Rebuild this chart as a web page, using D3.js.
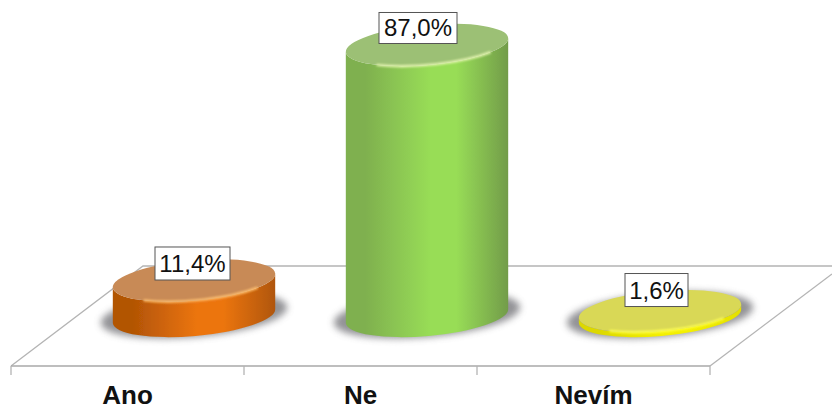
<!DOCTYPE html>
<html><head><meta charset="utf-8">
<script src="https://cdn.jsdelivr.net/npm/d3@7"></script>
<style>html,body{margin:0;padding:0;background:#fff}svg{display:block}text{font-family:"Liberation Sans",Arial,sans-serif}</style>
</head><body><svg id="c" width="832" height="410"></svg>
<script>
const categories = ["Ano","Ne","Nevím"];
const values = [11.4,87.0,1.6];
const valueLabels = ["11,4%","87,0%","1,6%"];
const sideDark = ["#b25405","#7fb04f","#dcd800"];
const sideMid = ["#ec7510","#98dd56","#f4f000"];
const sideEnd = ["#b05608","#729c4a","#e4e000"];
const topFill = ["#c88a56","#9cc074","#d9d856"];
const rimLight = ["#ffc070","#e4f4b0","#ffff50"];

const svg = d3.select("#c");
const defs = svg.append("defs");
const W0=11, W1=710, FY=366, DX=133, DY=100;
const x = d3.scaleBand().domain(categories).range([W0,W1]);
const y = d3.scaleLinear().domain([0,100]).range([FY-DY/2, FY-DY/2-311.5]);
const cx = c => x(c)+x.bandwidth()/2+DX/2;
const RX=81.5, RY=20, ROT=-5;
const rad=ROT*Math.PI/180, ex=RX*Math.cos(rad), ey=RX*Math.sin(rad);

defs.append("filter").attr("id","sh").attr("x","-20%").attr("y","-50%").attr("width","140%").attr("height","200%")
  .append("feGaussianBlur").attr("stdDeviation",3.5);
defs.append("filter").attr("id","rim").attr("x","-10%").attr("y","-50%").attr("width","120%").attr("height","200%")
  .append("feGaussianBlur").attr("stdDeviation",0.9);
defs.append("filter").attr("id","soft").attr("x","-5%").attr("y","-5%").attr("width","110%").attr("height","110%")
  .append("feGaussianBlur").attr("stdDeviation",0.35);

categories.forEach((c,i)=>{
  const g=defs.append("linearGradient").attr("id","side"+i);
  [[0,sideDark[i]],[0.12,sideDark[i]],[0.52,sideMid[i]],[0.68,sideMid[i]],[1,sideEnd[i]]].forEach(s=>
    g.append("stop").attr("offset",s[0]).attr("stop-color",s[1]));
});

// floor
const floor = svg.append("g").attr("fill","none").attr("stroke","#b4b4b4").attr("stroke-width",1.3);
floor.append("path").attr("d",d3.line()([[W0,FY],[W0+DX-1,FY-DY],[832,FY-DY]]));
floor.append("path").attr("d",d3.line()([[W1,FY],[W1+DX-11,FY-DY+8]]));
floor.append("path").attr("d",d3.line()([[W0,FY],[W1,FY]])).attr("stroke","#a8a8a8");
d3.range(categories.length+1).forEach(k=>{
  const tx = k<categories.length ? x(categories[k]) : W1;
  floor.append("line").attr("x1",tx).attr("x2",tx).attr("y1",FY).attr("y2",FY+9);
});

// shadows
svg.append("g").selectAll("ellipse").data(categories).join("ellipse")
  .attr("cx",c=>cx(c)).attr("cy",y(0)-1).attr("rx",RX+12).attr("ry",RY+2)
  .attr("transform",c=>`rotate(${ROT} ${cx(c)} ${y(0)-1})`)
  .attr("fill","#808084").attr("opacity",0.85).attr("filter","url(#sh)");

// cylinders
const cyl = svg.append("g").attr("filter","url(#soft)").selectAll("g").data(categories).join("g");
cyl.append("path")
  .attr("d",(c,i)=>{
    const X=cx(c), T=y(values[i]), B=y(0);
    return `M${X-ex},${T-ey} L${X-ex},${B-ey} A${RX},${RY} ${ROT} 0 0 ${X+ex},${B+ey} L${X+ex},${T+ey} A${RX},${RY} ${ROT} 0 1 ${X-ex},${T-ey}Z`;
  })
  .attr("fill",(c,i)=>`url(#side${i})`);
cyl.append("ellipse")
  .attr("cx",c=>cx(c)).attr("cy",(c,i)=>y(values[i])).attr("rx",RX).attr("ry",RY)
  .attr("transform",(c,i)=>`rotate(${ROT} ${cx(c)} ${y(values[i])})`)
  .attr("fill",(c,i)=>topFill[i]);
cyl.append("path")
  .attr("d",(c,i)=>{
    const X=cx(c), T=y(values[i]);
    const px=t=>X+RX*Math.cos(t)*Math.cos(rad)-RY*Math.sin(t)*Math.sin(rad);
    const py=t=>T+RX*Math.cos(t)*Math.sin(rad)+RY*Math.sin(t)*Math.cos(rad);
    const t0=Math.PI*0.72, t1=Math.PI*0.22;
    return `M${px(t0)},${py(t0)} A${RX},${RY} ${ROT} 0 0 ${px(t1)},${py(t1)}`;
  })
  .attr("fill","none").attr("stroke",(c,i)=>rimLight[i]).attr("stroke-width",2.4).attr("filter","url(#rim)");

// value labels
const boxW=[75,78,63], boxH=[33,31,33], lift=[17,17,21], shift=[-1.5,-9,-3.5];
const lab = svg.append("g").selectAll("g").data(categories).join("g")
  .attr("transform",(c,i)=>`translate(${cx(c)+shift[i]},${y(values[i])-lift[i]})`);
lab.append("rect")
  .attr("x",(c,i)=>-boxW[i]/2).attr("y",(c,i)=>-boxH[i]/2).attr("width",(c,i)=>boxW[i]).attr("height",(c,i)=>boxH[i])
  .attr("fill","#fff").attr("stroke","#555").attr("stroke-width",1);
lab.append("text").attr("text-anchor","middle").attr("y",8.5).attr("font-size",24).attr("fill","#111")
  .text((c,i)=>valueLabels[i]);

// category labels
svg.append("g").selectAll("text").data(categories).join("text")
  .attr("x",c=>x(c)+x.bandwidth()/2).attr("y",404.4).attr("text-anchor","middle")
  .attr("font-size",26).attr("font-weight","bold").attr("fill","#111").text(c=>c);
</script></body></html>
